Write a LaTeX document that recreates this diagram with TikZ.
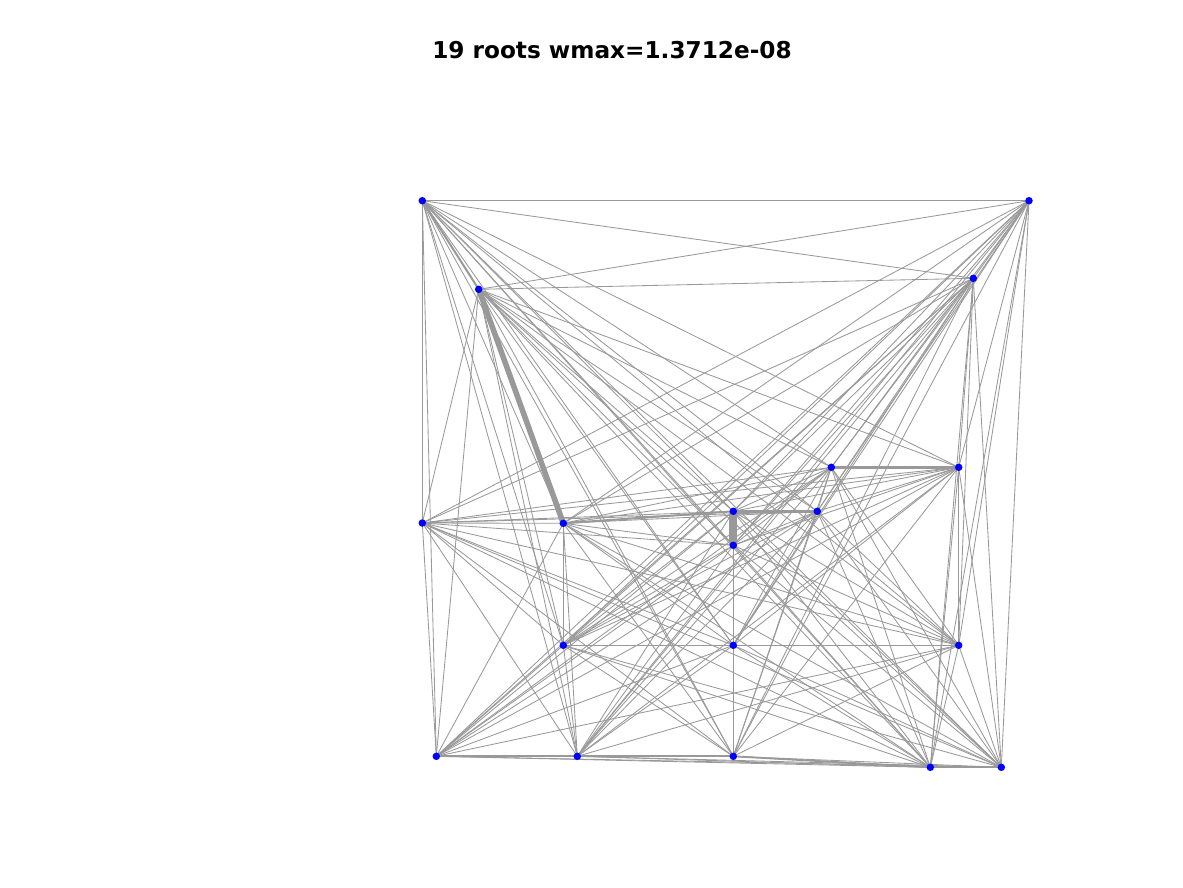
\documentclass[tikz,border=0pt]{standalone}
\usepackage{fontspec}
\setmainfont{DejaVu Sans}
\usetikzlibrary{backgrounds}
\definecolor{edgegray}{RGB}{153,153,153}
\definecolor{rootblue}{RGB}{0,0,255}
\tikzset{
  rootpt/.style={circle,fill=rootblue,inner sep=0pt,minimum size=7.5pt},
  edge/.style={draw=edgegray,line width=0.85pt},
}
\begin{document}
\begin{tikzpicture}[x=1pt,y=-1pt]
\useasboundingbox (0,0) rectangle (1183,887);
\node[font=\bfseries\fontsize{23.2}{28}\selectfont] (title) at (612,50) {19 roots wmax=1.3712e-08};
\node[rootpt] (n1) at (422.3,200.7) {};
\node[rootpt] (n2) at (1029,200.7) {};
\node[rootpt] (n3) at (478.7,289.3) {};
\node[rootpt] (n4) at (973.3,278.3) {};
\node[rootpt] (n5) at (831.3,467.3) {};
\node[rootpt] (n6) at (958.7,467.3) {};
\node[rootpt] (n7) at (422.3,523) {};
\node[rootpt] (n8) at (563.3,523.3) {};
\node[rootpt] (n9) at (733.3,511.3) {};
\node[rootpt] (n10) at (817.3,511.3) {};
\node[rootpt] (n11) at (733.3,545.3) {};
\node[rootpt] (n12) at (563.3,645.3) {};
\node[rootpt] (n13) at (733.3,645.3) {};
\node[rootpt] (n14) at (958.7,645.3) {};
\node[rootpt] (n15) at (436.3,756.3) {};
\node[rootpt] (n16) at (577.3,756.3) {};
\node[rootpt] (n17) at (733.3,756.3) {};
\node[rootpt] (n18) at (930.3,767.3) {};
\node[rootpt] (n19) at (1001.3,767.3) {};
\begin{pgfonlayer}{background}
\foreach \i in {1,...,18} {
  \pgfmathtruncatemacro\k{\i+1}
  \foreach \j in {\k,...,19} {
    \draw[edge] (n\i.center) -- (n\j.center);
  }
}
\draw[edge,line width=5.5pt] (n3.center) -- (n8.center);
\draw[edge,line width=8pt] (n9.center) -- (n11.center);
\draw[edge,line width=3.5pt] (n5.center) -- (n6.center);
\draw[edge,line width=2.8pt] (n9.center) -- (n10.center);
\draw[edge,line width=2pt] (n8.center) -- (n9.center);
\draw[edge,line width=2pt] (n1.center) -- (n3.center);
\draw[edge,line width=1.8pt] (n15.center) -- (n16.center);
\draw[edge,line width=1.8pt] (n16.center) -- (n17.center);
\draw[edge,line width=1.8pt] (n17.center) -- (n18.center);
\draw[edge,line width=1.8pt] (n18.center) -- (n19.center);
\end{pgfonlayer}
\end{tikzpicture}
\end{document}
